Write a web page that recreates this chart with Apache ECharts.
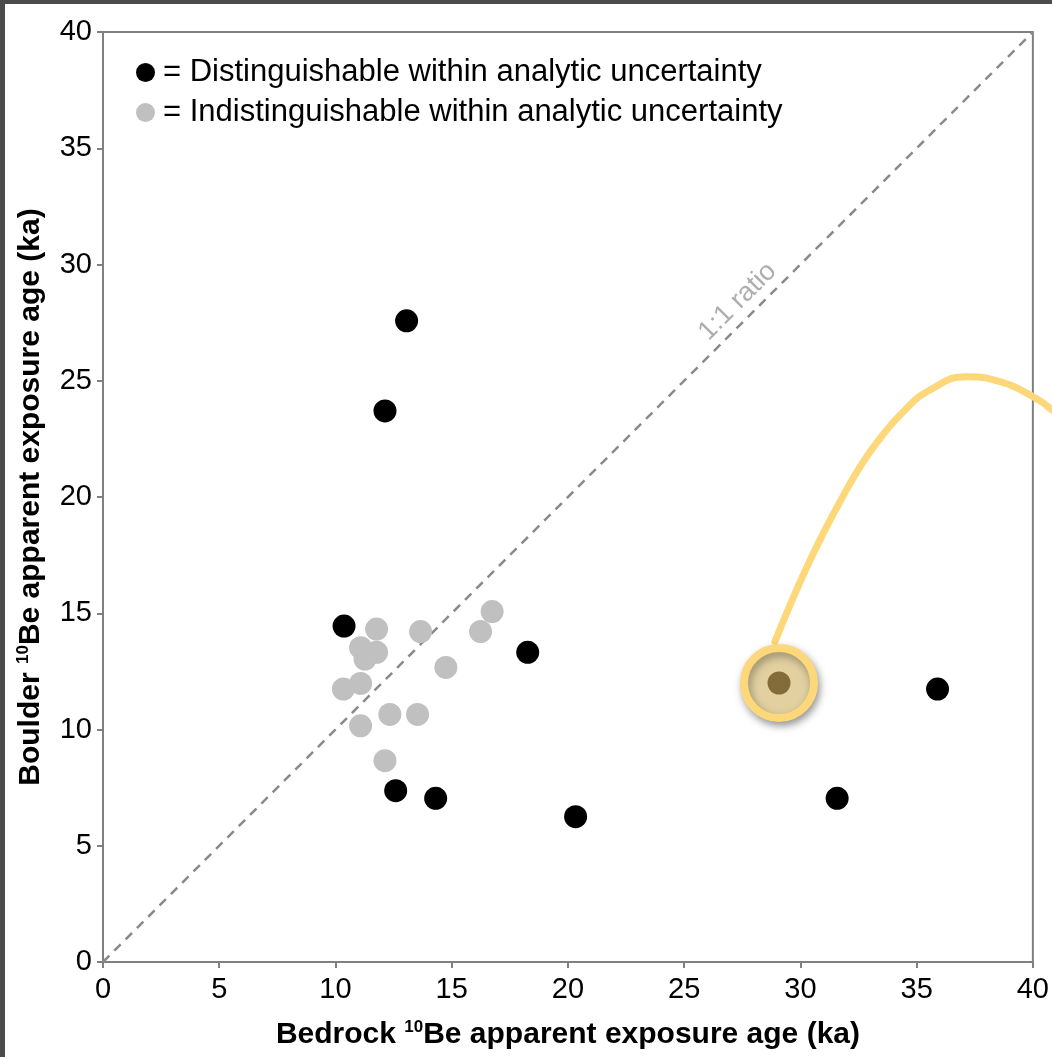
<!DOCTYPE html>
<html>
<head>
<meta charset="utf-8">
<script src="https://cdn.jsdelivr.net/npm/echarts@6/dist/echarts.min.js"></script>
<style>
  html, body { margin: 0; padding: 0; background: #fff; }
  #main { width: 1052px; height: 1057px; }
</style>
</head>
<body>
<div id="main"></div>
<script>
// points distinguishable within analytic uncertainty (black)
var blackX = [13.06, 12.13, 10.37, 18.27, 35.90, 31.58, 12.59, 14.31, 20.33];
var blackY = [27.58, 23.70, 14.45, 13.32, 11.74, 7.04, 7.37, 7.04, 6.25];

// points indistinguishable within analytic uncertainty (gray)
var grayX = [11.77, 13.66, 16.74, 16.24, 11.08, 11.77, 11.27, 14.75, 10.34, 11.08, 12.34, 13.53, 11.08, 12.13];
var grayY = [14.32, 14.21, 15.07, 14.21, 13.52, 13.32, 13.03, 12.67, 11.74, 11.98, 10.65, 10.65, 10.16, 8.66];

// highlighted sample
var focusX = [29.08];
var focusY = [12.0];

// hand drawn callout curve (runs past the right edge of the plot)
var curveX = [28.90, 29.55, 30.27, 30.98, 31.70, 32.56, 33.42, 34.42, 35.57, 37.15, 38.58, 40.01, 40.82];
var curveY = [13.78, 15.35, 16.98, 18.44, 19.80, 21.30, 22.52, 23.67, 24.60, 25.17, 24.96, 24.31, 23.74];

// 1:1 line
var ratioX = [0, 40];
var ratioY = [0, 40];

function pairs(xs, ys) {
    var out = [];
    for (var i = 0; i < xs.length; i++) {
        out.push([xs[i], ys[i]]);
    }
    return out;
}

var FONT = 'Liberation Sans';
var AXIS_GRAY = '#808080';
// second (hidden) grid reaches the right edge of the page, same scale as the main one
var EXTRA_MAX = 40 + 19 / 23.25;

var titleRich = {
    sup: {
        fontSize: 17,
        fontWeight: 'bold',
        fontFamily: FONT,
        color: '#000',
        verticalAlign: 'top',
        lineHeight: 32,
        padding: [0, 0, 13, 0]
    }
};

var option = {
    animation: false,
    backgroundColor: '#fff',
    textStyle: { fontFamily: FONT },
    grid: [{
        left: 103,
        top: 32,
        right: 19,
        bottom: 95,
        show: true,
        borderColor: AXIS_GRAY,
        borderWidth: 2
    }, {
        left: 103,
        top: 32,
        right: 0,
        bottom: 95
    }],
    legend: {
        orient: 'vertical',
        left: 131,
        top: 52,
        itemWidth: 19,
        itemHeight: 19,
        itemGap: 9,
        icon: 'circle',
        textStyle: { fontSize: 31, color: '#000', fontFamily: FONT, padding: [0, 0, 0, 3] },
        data: ['= Distinguishable within analytic uncertainty', '= Indistinguishable within analytic uncertainty']
    },
    xAxis: [{
        type: 'value',
        gridIndex: 0,
        min: 0,
        max: 40,
        interval: 5,
        name: 'Bedrock {sup|10}Be apparent exposure age (ka)',
        nameLocation: 'middle',
        nameGap: 57,
        nameTextStyle: { fontSize: 30, fontWeight: 'bold', color: '#000', fontFamily: FONT, rich: titleRich },
        axisLine: { lineStyle: { color: AXIS_GRAY, width: 2 } },
        axisTick: { show: true, inside: false, length: 6, lineStyle: { color: AXIS_GRAY, width: 2 } },
        axisLabel: { fontSize: 29, color: '#000', margin: 13, fontFamily: FONT },
        splitLine: { show: false }
    }, {
        type: 'value',
        gridIndex: 1,
        min: 0,
        max: EXTRA_MAX,
        show: false
    }],
    yAxis: [{
        type: 'value',
        gridIndex: 0,
        min: 0,
        max: 40,
        interval: 5,
        name: 'Boulder {sup|10}Be apparent exposure age (ka)',
        nameLocation: 'middle',
        nameGap: 56,
        nameTextStyle: { fontSize: 30, fontWeight: 'bold', color: '#000', fontFamily: FONT, rich: titleRich },
        axisLine: { lineStyle: { color: AXIS_GRAY, width: 2 } },
        axisTick: { show: true, inside: false, length: 6, lineStyle: { color: AXIS_GRAY, width: 2 } },
        axisLabel: { fontSize: 29, color: '#000', margin: 11, fontFamily: FONT },
        splitLine: { show: false }
    }, {
        type: 'value',
        gridIndex: 1,
        min: 0,
        max: 40,
        show: false
    }],
    graphic: [
        { type: 'rect', left: 0, top: 0, shape: { width: 5, height: 1057 }, style: { fill: '#4b4b4b' }, z: 100 },
        { type: 'rect', left: 0, top: 0, shape: { width: 1052, height: 4 }, style: { fill: '#4b4b4b' }, z: 100 }
    ],
    series: [{
        name: 'ratio',
        type: 'line',
        data: pairs(ratioX, ratioY),
        symbol: 'none',
        silent: true,
        z: 1,
        lineStyle: { color: '#8a8a8a', width: 2.5, type: [9, 7] }
    }, {
        name: 'ratioLabel',
        type: 'scatter',
        data: [[27.3, 28.4]],
        symbolSize: 0,
        silent: true,
        z: 1,
        label: {
            show: true,
            formatter: '1:1 ratio',
            position: 'inside',
            rotate: 45,
            fontSize: 27,
            color: '#9a9a9a',
            fontFamily: FONT
        }
    }, {
        name: '= Indistinguishable within analytic uncertainty',
        type: 'scatter',
        data: pairs(grayX, grayY),
        symbol: 'circle',
        symbolSize: 23,
        z: 3,
        itemStyle: { color: '#c0c0c0', opacity: 1 }
    }, {
        name: '= Distinguishable within analytic uncertainty',
        type: 'scatter',
        data: pairs(blackX, blackY),
        symbol: 'circle',
        symbolSize: 23,
        z: 4,
        itemStyle: { color: '#000', opacity: 1 }
    }, {
        name: 'callout',
        type: 'line',
        xAxisIndex: 1,
        yAxisIndex: 1,
        data: pairs(curveX, curveY),
        smooth: true,
        symbol: 'none',
        silent: true,
        z: 5,
        lineStyle: { color: '#fdd87b', width: 7, cap: 'round' }
    }, {
        name: 'focusRing',
        type: 'scatter',
        data: pairs(focusX, focusY),
        symbol: 'circle',
        symbolSize: 70,
        z: 6,
        itemStyle: {
            color: '#e2d0a0',
            borderColor: '#fdd87b',
            borderWidth: 8,
            opacity: 1,
            shadowColor: 'rgba(0,0,0,0.35)',
            shadowBlur: 8,
            shadowOffsetX: 2,
            shadowOffsetY: 4
        }
    }, {
        name: 'focusDot',
        type: 'scatter',
        data: pairs(focusX, focusY),
        symbol: 'circle',
        symbolSize: 23,
        z: 7,
        itemStyle: { color: '#836c3a', opacity: 1 }
    }]
};

var myChart = echarts.init(document.getElementById('main'));
myChart.setOption(option);
</script>
</body>
</html>
